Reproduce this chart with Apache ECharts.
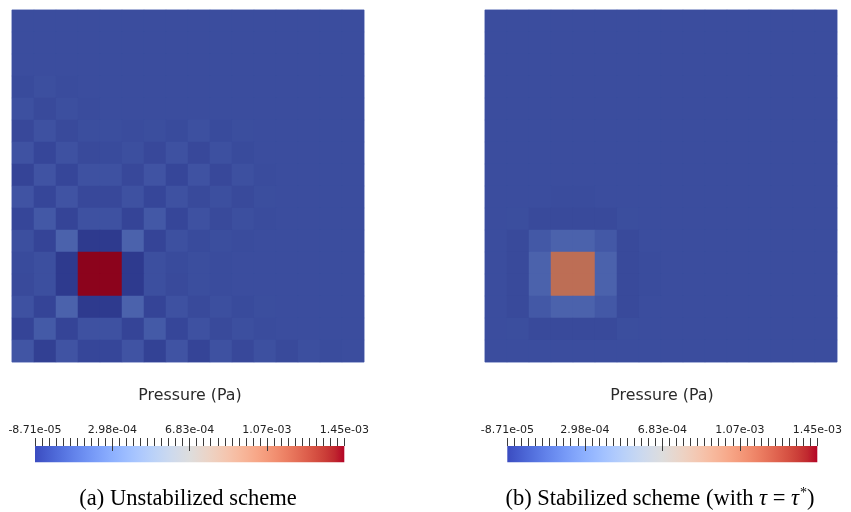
<!DOCTYPE html>
<html>
<head>
<meta charset="utf-8">
<script src="https://cdn.jsdelivr.net/npm/echarts@6/dist/echarts.min.js"></script>
<style>
  html, body { margin: 0; padding: 0; background: #fff; }
  #chart { width: 851px; height: 512px; }
</style>
</head>
<body>
<div id="chart"></div>
<script>
// Colour-bar range (Pa) and its tick labels
const pressureMin = -8.71e-5;
const pressureMax = 1.45e-3;
const tickLabels = ['-8.71e-05', '2.98e-04', '6.83e-04', '1.07e-03', '1.45e-03'];
const barTitle = 'Pressure (Pa)';
const captions = [
  '(a) Unstabilized scheme',
  '(b) Stabilized scheme (with {i|τ} = {i|τ}{s|*})'
];

// Element pressures on the 16 x 16 mesh, first row = top edge, in units of 1e-5 Pa
const UNIT = 1e-5;
const unstabilized = [
  [0, 0, 0, 0, 0, 0, 0, 0, 0, 0, 0, 0, 0, 0, 0, 0],
  [0, 0, 0, 0, 0, 0, 0, 0, 0, 0, 0, 0, 0, 0, 0, 0],
  [0, 0, 0, 0, 0, 0, 0, 0, 0, 0, 0, 0, 0, 0, 0, 0],
  [-1, 1, -0.5, 0, 0, 0, 0, 0, 0, 0, 0, 0, 0, 0, 0, 0],
  [1.5, -1.5, 1, -0.5, 0, 0, 0, 0, 0, 0, 0, 0, 0, 0, 0, 0],
  [-2, 2, -1.5, 0.5, 0.5, -0.5, 0.5, -1, 1.5, -1, 0.5, 0, 0, 0, 0, 0],
  [2.5, -3, 2, -1.5, -1, 1, -2, 2, -2, 1.5, -1, 0, 0, 0, 0, 0],
  [-4, 3, -3, 2, 2, -2, 3, -3, 2.5, -2, 1.5, -0.5, 0, 0, 0, 0],
  [3, -3, 3, -2, -2, 2, -3, 2, -1.5, 1, -1.5, 0.5, 0, 0, 0, 0],
  [-3, 5, -4, 2, 2, -4, 5, -3, 2, -1.5, 1, -0.5, 0, 0, 0, 0],
  [1, -4, 10, -8.71, -8.71, 10, -4, 1.5, -1, 0.5, -0.5, 0, 0, 0, 0, 0],
  [-1, 1, -8.71, 145, 145, -8.71, 1, -1, 0.5, -0.5, 0, 0, 0, 0, 0, 0],
  [-1.5, 1, -8.71, 145, 145, -8.71, 1, -1.5, 0.5, -0.5, 0, 0, 0, 0, 0, 0],
  [2, -4, 10, -8.71, -8.71, 10, -4, 2, -1.5, 1, -1, 0.5, 0, 0, 0, 0],
  [-4, 6, -4, 2, 2, -4, 6, -3, 2, -1.5, 1, -0.5, 0, 0, 0, 0],
  [4, -6, 3, -3, -3, 3, -5, 3, -4, 2, -2, 1.5, -1.5, 1, -0.5, 0]
];
const stabilized = [
  [0, 0, 0, 0, 0, 0, 0, 0, 0, 0, 0, 0, 0, 0, 0, 0],
  [0, 0, 0, 0, 0, 0, 0, 0, 0, 0, 0, 0, 0, 0, 0, 0],
  [0, 0, 0, 0, 0, 0, 0, 0, 0, 0, 0, 0, 0, 0, 0, 0],
  [0, 0, 0, 0, 0, 0, 0, 0, 0, 0, 0, 0, 0, 0, 0, 0],
  [0, 0, 0, 0, 0, 0, 0, 0, 0, 0, 0, 0, 0, 0, 0, 0],
  [0, 0, 0, 0, 0, 0, 0, 0, 0, 0, 0, 0, 0, 0, 0, 0],
  [0, 0, 0, 0, 0, 0, 0, 0, 0, 0, 0, 0, 0, 0, 0, 0],
  [0, 0, 0, 0, 0, 0, 0, 0, 0, 0, 0, 0, 0, 0, 0, 0],
  [0, 0, 0, -0.5, -0.5, 0, 0, 0, 0, 0, 0, 0, 0, 0, 0, 0],
  [0, 0.3, -1.5, -1.5, -1.5, -1.5, 0.3, 0, 0, 0, 0, 0, 0, 0, 0, 0],
  [0, -1.5, 5, 10, 10, 5, -1.5, 0, 0, 0, 0, 0, 0, 0, 0, 0],
  [0, -1.5, 10, 110, 110, 10, -1.5, -0.5, 0, 0, 0, 0, 0, 0, 0, 0],
  [0, -1.5, 10, 110, 110, 10, -1.5, -0.5, 0, 0, 0, 0, 0, 0, 0, 0],
  [0, -1.5, 5, 10, 10, 5, -1.5, 0, 0, 0, 0, 0, 0, 0, 0, 0],
  [0, 0.3, -1.5, -1.5, -1.5, -1.5, 0.3, 0, 0, 0, 0, 0, 0, 0, 0, 0],
  [0, 0, 0, 0, 0, 0, 0, 0, 0, 0, 0, 0, 0, 0, 0, 0]
];

// "Cool to Warm" diverging colour map, 33 evenly spaced samples
const coolWarm = [
  [59, 76, 192], [68, 90, 204], [77, 104, 215], [87, 117, 225], [98, 130, 234],
  [108, 142, 241], [119, 154, 247], [130, 165, 251], [141, 176, 254], [152, 185, 255],
  [163, 194, 255], [174, 201, 253], [184, 208, 249], [194, 213, 244], [204, 217, 238],
  [213, 219, 230], [221, 221, 221], [229, 216, 209], [236, 211, 197], [241, 204, 185],
  [245, 196, 173], [247, 187, 160], [247, 177, 148], [247, 166, 135], [244, 154, 123],
  [241, 141, 111], [236, 127, 99], [229, 112, 88], [222, 96, 77], [213, 80, 66],
  [203, 62, 56], [192, 40, 47], [180, 4, 38]
];
// the rendered surface is lit, which darkens it a little
const lit = [0.78, 0.76, 0.74];
const rgb = c => `rgb(${Math.round(c[0])},${Math.round(c[1])},${Math.round(c[2])})`;
const litRamp = coolWarm.map(c => rgb([c[0] * lit[0], c[1] * lit[1], c[2] * lit[2]]));
const barStops = coolWarm.map((c, i) => ({ offset: i / (coolWarm.length - 1), color: rgb(c) }));

const N = 16;
const cells = Array.from({ length: N }, (_, i) => String(i));
function toCells(grid) {
  const out = [];
  grid.forEach((row, r) => row.forEach((v, c) => out.push([c, N - 1 - r, v * UNIT])));
  return out;
}

const sans = 'DejaVu Sans';
const serif = 'Liberation Serif';

// layout of the two panels
const panels = [
  { map: { left: 12, top: 10, width: 352, height: 352 }, bar: { left: 35, width: 309.3 }, cx: 190, capX: 188 },
  { map: { left: 485, top: 10, width: 352, height: 352 }, bar: { left: 507.3, width: 310 }, cx: 662, capX: 660 }
];
const barTop = 446, barHeight = 16.3, tickTop = 438, majorLen = 13, minorLen = 8;
const tickColor = '#3a3a3a';

const grid = [], xAxis = [], yAxis = [], series = [], graphic = [];

panels.forEach((p, k) => {
  // mesh
  grid.push({ ...p.map, show: true, borderColor: '#9aa6d8', borderWidth: 1, backgroundColor: 'transparent' });
  xAxis.push({ type: 'category', gridIndex: grid.length - 1, data: cells, show: false });
  yAxis.push({ type: 'category', gridIndex: grid.length - 1, data: cells, show: false });
  series.push({
    type: 'heatmap', xAxisIndex: xAxis.length - 1, yAxisIndex: yAxis.length - 1,
    data: toCells(k === 0 ? unstabilized : stabilized),
    itemStyle: { borderWidth: 0 }, emphasis: { disabled: true }, silent: true
  });
});

panels.forEach((p) => {
  // colour bar
  grid.push({ left: p.bar.left, width: p.bar.width, top: barTop, height: barHeight });
  xAxis.push({ type: 'value', gridIndex: grid.length - 1, min: pressureMin, max: pressureMax, show: false });
  yAxis.push({ type: 'value', gridIndex: grid.length - 1, min: 0, max: 1, show: false });
  series.push({
    type: 'custom', xAxisIndex: xAxis.length - 1, yAxisIndex: yAxis.length - 1, silent: true,
    data: [[pressureMin, pressureMax]],
    encode: { x: [0, 1] },
    renderItem(params, api) {
      const a = api.coord([api.value(0), 0]);
      const b = api.coord([api.value(1), 1]);
      return {
        type: 'rect',
        shape: { x: a[0], y: b[1], width: b[0] - a[0], height: a[1] - b[1] },
        style: { fill: new echarts.graphic.LinearGradient(0, 0, 1, 0, barStops) }
      };
    }
  });
});

panels.forEach((p) => {
  // ticks and labels of the colour bar: short ticks hang from the top line,
  // the inner label positions get a longer mark reaching into the bar
  grid.push({ left: p.bar.left, width: p.bar.width, top: tickTop, height: majorLen });
  xAxis.push({
    type: 'value', gridIndex: grid.length - 1, position: 'top', z: 10,
    min: 0, max: tickLabels.length - 1, interval: 1,
    axisLine: { show: false, onZero: false },
    axisTick: { show: true, inside: true, length: minorLen, lineStyle: { color: tickColor, width: 1 } },
    minorTick: { show: true, splitNumber: 11, length: minorLen, lineStyle: { color: tickColor, width: 1 } },
    splitLine: { show: true, showMinLine: false, showMaxLine: false, lineStyle: { color: tickColor, width: 1 } },
    axisLabel: {
      show: true, margin: 2, fontSize: 11, fontFamily: sans, color: '#222',
      showMinLabel: true, showMaxLabel: true,
      formatter: v => tickLabels[Math.round(v)]
    }
  });
  yAxis.push({ type: 'value', gridIndex: grid.length - 1, min: 0, max: 1, show: false });

  graphic.push({
    type: 'text', x: p.cx, y: 396, silent: true,
    style: { text: barTitle, fontFamily: sans, fontSize: 15.8, fill: '#2a2a2a', align: 'center', verticalAlign: 'middle' }
  });
});

panels.forEach((p, k) => {
  graphic.push({
    type: 'text', x: p.capX, y: 499, silent: true,
    style: {
      text: captions[k], fontFamily: serif, fontSize: 22.5, fill: '#000',
      align: 'center', verticalAlign: 'middle', lineHeight: 26,
      rich: {
        i: { fontFamily: serif, fontStyle: 'italic', fontSize: 22.5, lineHeight: 26 },
        s: { fontFamily: serif, fontSize: 14, lineHeight: 22, verticalAlign: 'top', padding: [0, 0, 0, 1] }
      }
    }
  });
});

const chart = echarts.init(document.getElementById('chart'), null, { renderer: 'canvas' });
chart.setOption({
  animation: false,
  backgroundColor: '#ffffff',
  grid, xAxis, yAxis, series, graphic,
  visualMap: [{
    type: 'continuous', show: false, seriesIndex: [0, 1],
    min: pressureMin, max: pressureMax,
    inRange: { color: litRamp }
  }]
});
</script>
</body>
</html>
